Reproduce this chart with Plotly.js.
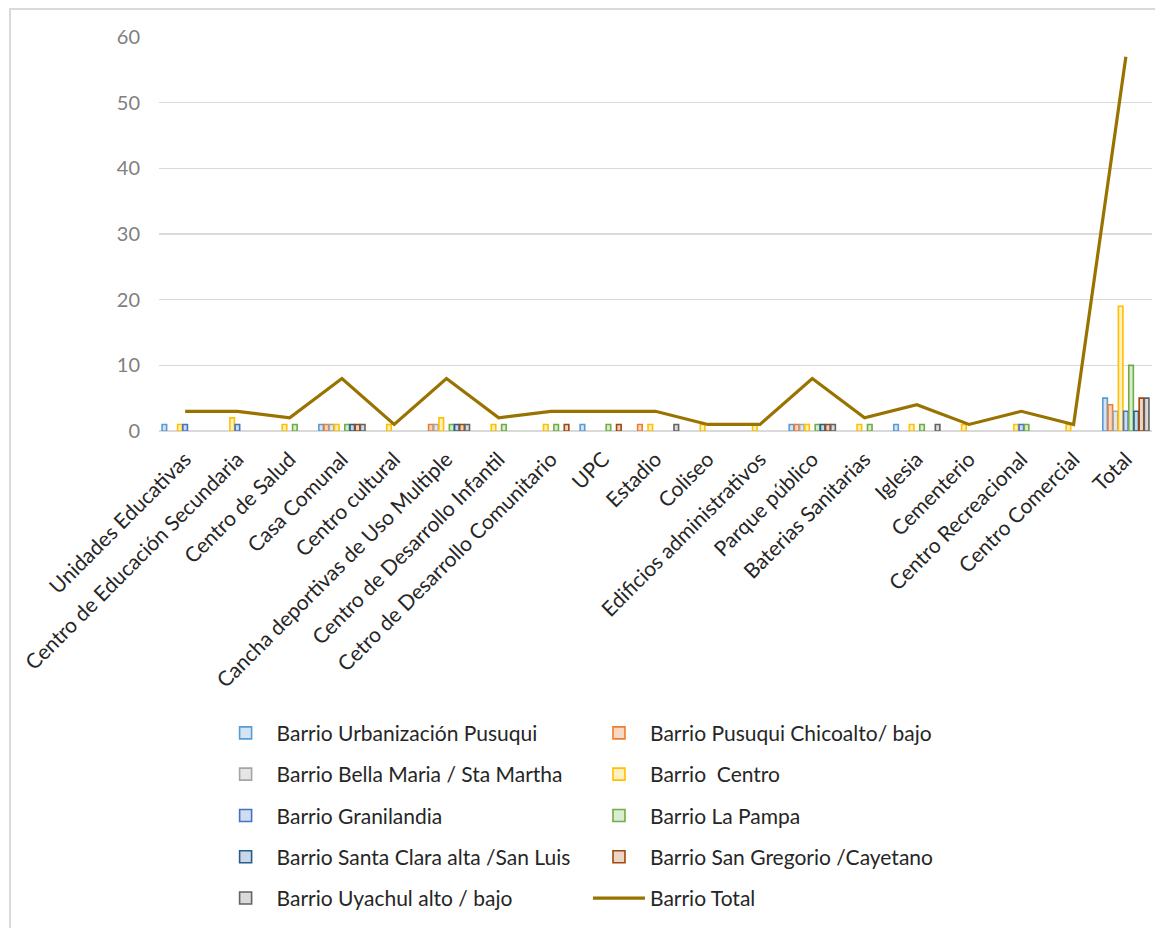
<!DOCTYPE html>
<html>
<head>
<meta charset="utf-8">
<script src="https://cdn.plot.ly/plotly-3.0.1.min.js"></script>
<style>
  html, body { margin: 0; padding: 0; background: #fff; overflow: hidden; }
  #chart { width: 1155px; height: 928px; }
  #frame { position: absolute; left: 9px; top: 8px; width: 1300px; height: 1100px;
           border: 2px solid #d9d9d9; pointer-events: none; }
</style>
</head>
<body>
<div id="chart"></div>
<div id="frame"></div>
<script>
const categories = [
  "Unidades Educativas", "Centro de Educación Secundaria", "Centro de Salud", "Casa Comunal",
  "Centro cultural", "Cancha deportivas de Uso Multiple", "Centro de Desarrollo Infantil",
  "Cetro de Desarrollo Comunitario", "UPC", "Estadio", "Coliseo", "Edificios administrativos",
  "Parque público", "Baterias Sanitarias", "Iglesia", "Cementerio", "Centro Recreacional",
  "Centro Comercial", "Total"
];
const urbanizacionPusuqui = [1,0,0,1,0,0,0,0,1,0,0,0,1,0,1,0,0,0,5];
const pusuquiChicoalto    = [0,0,0,1,0,1,0,0,0,1,0,0,1,0,0,0,0,0,4];
const bellaMaria          = [0,0,0,1,0,1,0,0,0,0,0,0,1,0,0,0,0,0,3];
const centro              = [1,2,1,1,1,2,1,1,0,1,1,1,1,1,1,1,1,1,19];
const granilandia         = [1,1,0,0,0,0,0,0,0,0,0,0,0,0,0,0,1,0,3];
const laPampa             = [0,0,1,1,0,1,1,1,1,0,0,0,1,1,1,0,1,0,10];
const santaClara          = [0,0,0,1,0,1,0,0,0,0,0,0,1,0,0,0,0,0,3];
const sanGregorio         = [0,0,0,1,0,1,0,1,1,0,0,0,1,0,0,0,0,0,5];
const uyachul             = [0,0,0,1,0,1,0,0,0,1,0,0,1,0,1,0,0,0,5];
const barrioTotal         = [3,3,2,8,1,8,2,3,3,3,1,1,8,2,4,1,3,1,57];

const seriesNames = [
  "Barrio Urbanización Pusuqui", "Barrio Pusuqui Chicoalto/ bajo", "Barrio Bella Maria / Sta Martha",
  "Barrio  Centro", "Barrio Granilandia", "Barrio La Pampa", "Barrio Santa Clara alta /San Luis",
  "Barrio San Gregorio /Cayetano", "Barrio Uyachul alto / bajo", "Barrio Total"
];
const barSeries = [urbanizacionPusuqui, pusuquiChicoalto, bellaMaria, centro, granilandia,
                   laPampa, santaClara, sanGregorio, uyachul];
const lineColors = ["#5B9BD5","#ED7D31","#A5A5A5","#FFC000","#4472C4","#70AD47","#255E91","#9E480E","#636363"];
const fillColors = ["#d3e4f4","#fad9c4","#e6e6e6","#fff0bf","#d0dcf1","#dbedd0","#c9d7e6","#ecd4c6","#dadada"];
const legendOf   = ["legend","legend2","legend","legend2","legend","legend2","legend","legend2","legend"];

// zero counts are not drawn as bars (as in the original chart)
const traces = barSeries.map((vals, i) => ({
  type: "bar",
  name: seriesNames[i],
  x: categories,
  y: vals.map(v => (v === 0 ? null : v)),
  marker: { color: fillColors[i], line: { color: lineColors[i], width: 1.6 } },
  legend: legendOf[i],
  legendgroup: "g" + i,
  hoverinfo: "x+y+name"
}));
traces.push({
  type: "scatter",
  mode: "lines",
  name: seriesNames[9],
  x: categories,
  y: barrioTotal,
  line: { color: "#997300", width: 3.2 },
  legend: "legend2",
  legendgroup: "g9"
});

const font = "Lato, 'Open Sans', sans-serif";
const legendCommon = {
  orientation: "v",
  xanchor: "left",
  yanchor: "top",
  font: { family: font, size: 21, color: "#262626" },
  bgcolor: "rgba(0,0,0,0)",
  tracegroupgap: 11,
  itemwidth: 52,
  traceorder: "grouped"
};

const layout = {
  width: 1155,
  height: 928,
  margin: { l: 159, r: 3, t: 37, b: 497, pad: 0 },
  paper_bgcolor: "#ffffff",
  plot_bgcolor: "#ffffff",
  barmode: "group",
  bargap: 0.105,
  bargroupgap: 0.12,
  showlegend: true,
  font: { family: font, size: 19, color: "#262626" },
  xaxis: {
    type: "category",
    range: [-0.5, 18.5],
    tickangle: -45,
    tickfont: { family: font, size: 21, color: "#262626" },
    showgrid: false,
    showline: false,
    ticks: "",
    ticklabelstandoff: 11,
    automargin: false
  },
  yaxis: {
    range: [0, 60],
    dtick: 10,
    tickfont: { family: font, size: 20, color: "#808080" },
    gridcolor: "#d9d9d9",
    gridwidth: 1.6,
    zeroline: true,
    zerolinecolor: "#d9d9d9",
    zerolinewidth: 1.6,
    showline: false,
    ticks: "",
    ticklabelstandoff: 18,
    automargin: false
  },
  legend: Object.assign({}, legendCommon, { x: 0.056, y: -0.715 }),
  legend2: Object.assign({}, legendCommon, { x: 0.432, y: -0.715 })
};

Plotly.newPlot("chart", traces, layout, { displayModeBar: false, staticPlot: true });
</script>
</body>
</html>
